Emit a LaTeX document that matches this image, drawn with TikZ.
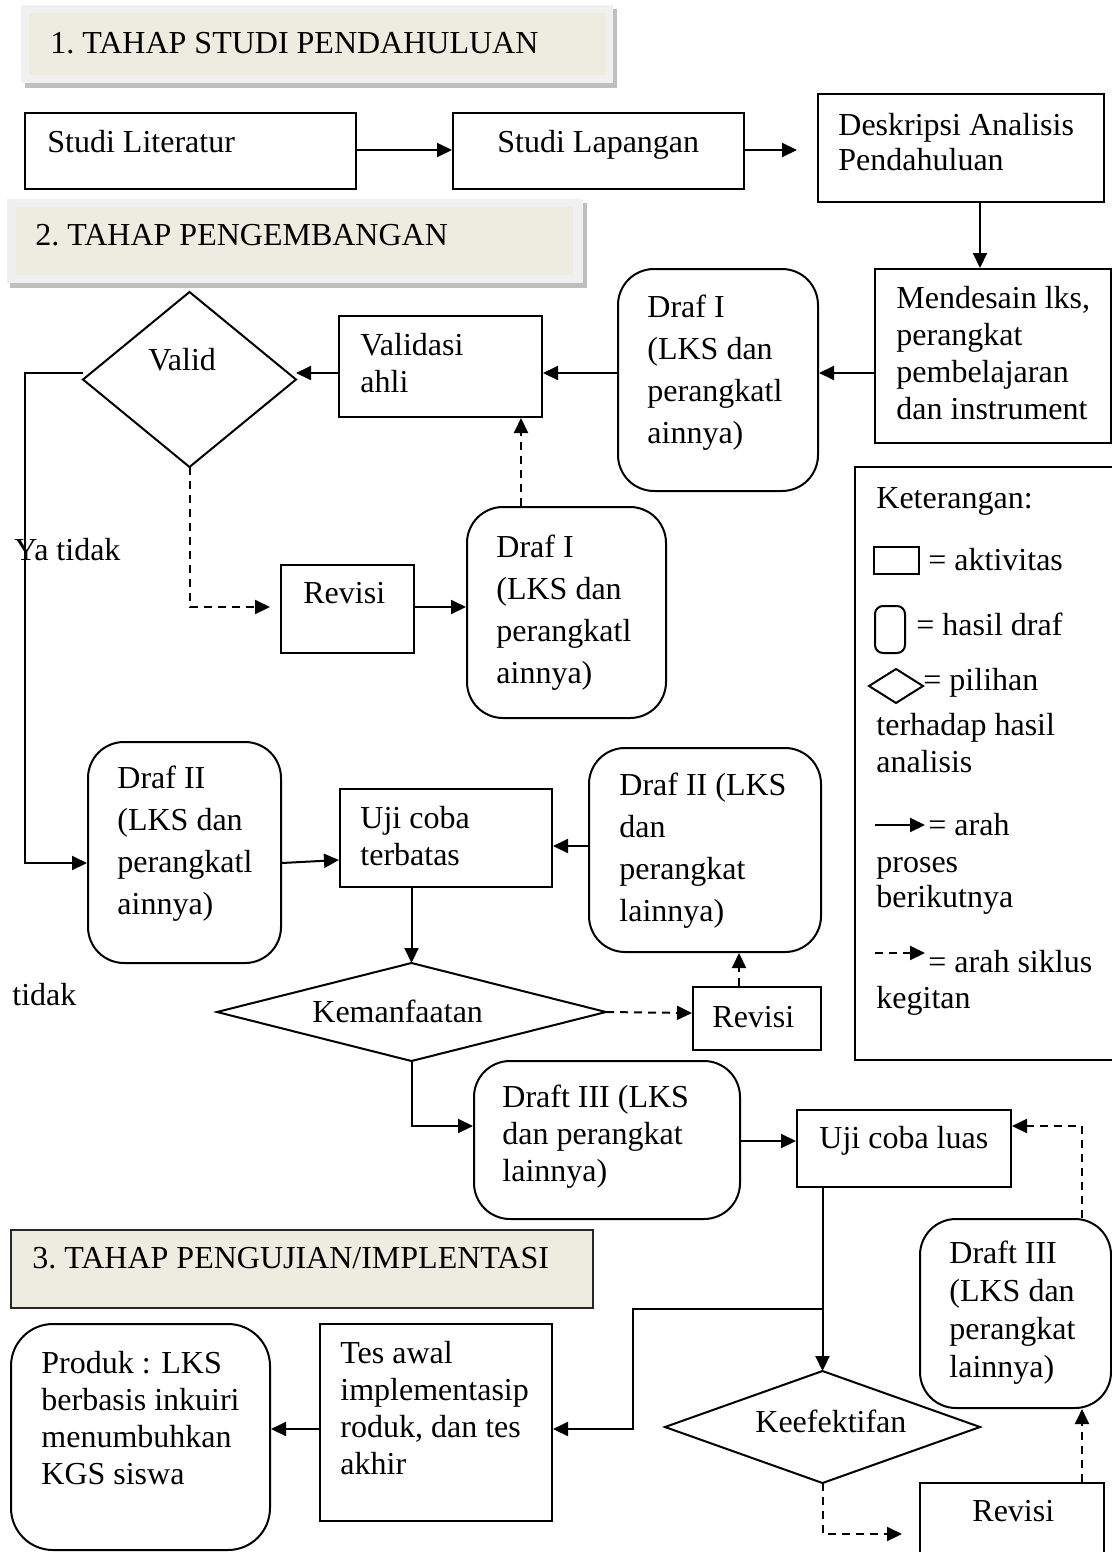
\documentclass[tikz,border=0pt]{standalone}
\usepackage{fontspec}
\setmainfont{Liberation Serif}
\usetikzlibrary{arrows.meta,shapes.geometric,fit,calc}
\definecolor{tanfill}{HTML}{EEECE1}
\definecolor{hborder}{HTML}{F0F0F0}
\definecolor{hshadow}{HTML}{BFBFBF}
\newcommand\tstrut{\rule{0pt}{11pt}}
\tikzset{
  box/.style={draw=black, line width=1pt, inner sep=0pt},
  rbox/.style={box, rounded corners=18pt},
  dia/.style={diamond, draw=black, line width=1pt, inner sep=0pt, outer sep=0pt},
  txt/.style={inner sep=0pt, align=left, anchor=north west},
  arr/.style={line width=1pt, -{Triangle[length=7.5pt,width=7pt]}},
  darr/.style={arr, dash pattern=on 4pt off 3pt},
}
% \tx{name}{x}{first baseline}{baselineskip in pt}{text}
\newcommand\tx[5]{\node[txt, font=\fontsize{16}{#4}\selectfont] (#1) at (#2,#3-22) {\tstrut #5};}
\begin{document}
\begin{tikzpicture}[x=0.5pt, y=-0.5pt]
\clip (0,0) rectangle (1112,1552);
\fill[white] (0,0) rectangle (1112,1552);

% ---------- headers ----------
\fill[hshadow] (25,9) rectangle (617,88);
\fill[hborder] (21,5) rectangle (613,83);
\node[fill=tanfill, inner sep=0pt, fit={(29,13) (606,75)}] (h1) {};
\tx{h1t}{50}{53}{20}{1.\ TAHAP STUDI PENDAHULUAN}

\fill[hshadow] (10,203) rectangle (587,288);
\fill[hborder] (7,199) rectangle (583,283);
\node[fill=tanfill, inner sep=0pt, fit={(16,207) (573,275)}] (h2) {};
\tx{h2t}{35}{245}{20}{2.\ TAHAP PENGEMBANGAN}

\node[box, draw=black!85, fill=tanfill, fit={(11,1230) (593,1308)}] (h3) {};
\tx{h3t}{32}{1268}{20}{3.\ TAHAP PENGUJIAN/IMPLENTASI}

% ---------- stage 1 ----------
\node[box, fit={(25,113) (356,189)}] (sl) {};
\tx{slt}{47}{152}{20}{Studi Literatur}
\node[box, fit={(453,113) (744,189)}] (slap) {};
\tx{slapt}{497}{152}{20}{Studi Lapangan}
\node[box, fit={(818,94) (1104,202)}] (desk) {};
\tx{deskt}{838}{135}{17.5}{Deskripsi Analisis\\Pendahuluan}

% ---------- stage 2 ----------
\node[box, fit={(875,269) (1111,443)}] (mend) {};
\tx{mendt}{896}{308}{18.5}{Mendesain lks,\\perangkat\\pembelajaran\\dan instrument}
\node[rbox, fit={(618,269) (818,491)}] (drafI) {};
\tx{drafIt}{647}{317}{21}{Draf I\\(LKS dan\\perangkatl\\ainnya)}
\node[box, fit={(339,316) (542,417)}] (val) {};
\tx{valt}{360}{355}{18.5}{Validasi\\ahli}
\node[dia, minimum width=106.5pt, minimum height=87.5pt] (validD) at (189.5,379.5) {};
\tx{validt}{148}{370}{20}{Valid}
\tx{yat}{14}{560}{20}{Ya tidak}
\node[box, fit={(281,565) (414,653)}] (rev1) {};
\tx{rev1t}{303}{603}{20}{Revisi}
\node[rbox, fit={(467,507) (666,718)}] (drafI2) {};
\tx{drafI2t}{496}{557}{21}{Draf I\\(LKS dan\\perangkatl\\ainnya)}

\node[rbox, fit={(88,742) (281,963)}] (d2L) {};
\tx{d2Lt}{117}{788}{21}{Draf II\\(LKS dan\\perangkatl\\ainnya)}
\node[box, fit={(340,789) (552,887)}] (uji1) {};
\tx{uji1t}{360}{828}{18.5}{Uji coba\\terbatas}
\node[rbox, fit={(589,748) (821,952)}] (d2R) {};
\tx{d2Rt}{619}{795}{21}{Draf II (LKS\\dan\\perangkat\\lainnya)}
\node[dia, minimum width=194.5pt, minimum height=49pt] (kemD) at (411.5,1012) {};
\tx{kemt}{312}{1022}{20}{Kemanfaatan}
\tx{tidakt}{12}{1005}{20}{tidak}
\node[box, fit={(693,987) (821,1050)}] (rev2) {};
\tx{rev2t}{712}{1027}{20}{Revisi}

\node[rbox, fit={(474,1061) (740,1219)}] (d3) {};
\tx{d3t}{502}{1107}{18.5}{Draft III (LKS\\dan perangkat\\lainnya)}
\node[box, fit={(797,1110) (1011,1187)}] (ujiL) {};
\tx{ujiLt}{819}{1148}{20}{Uji coba luas}
\node[rbox, fit={(920,1219) (1111,1408)}] (d3R) {};
\tx{d3Rt}{949}{1263}{19}{Draft III\\(LKS dan\\perangkat\\lainnya)}

% ---------- stage 3 ----------
\node[box, fit={(320,1324) (552,1521)}] (tes) {};
\tx{test}{340}{1363}{18.5}{Tes awal\\implementasip\\roduk, dan tes\\akhir}
\node[rbox, rounded corners=21pt, fit={(11,1324) (270,1550)}] (prod) {};
\tx{prodt}{41}{1373}{18.5}{Produk : LKS\\berbasis inkuiri\\menumbuhkan\\KGS siswa}
\node[dia, minimum width=157.5pt, minimum height=56pt] (keefD) at (822.5,1427) {};
\tx{keeft}{755}{1432}{20}{Keefektifan}
\node[box, fit={(920,1483) (1104,1570)}] (rev3) {};
\tx{rev3t}{972}{1521}{20}{Revisi}

% ---------- legend ----------
\node[box, fit={(855,467) (1113,1060)}] (leg) {};
\tx{legt}{876}{508}{20}{Keterangan:}
\node[box, fit={(874,547) (919,574)}] (lgbox) {};
\tx{lg1}{928}{570}{20}{= aktivitas}
\node[box, rounded corners=4pt, fit={(875,606) (905,653)}] (lgrbox) {};
\tx{lg2}{916}{635}{20}{= hasil draf}
\node[dia, minimum width=27pt, minimum height=17pt] (lgdia) at (896,686) {};
\tx{lg3}{923}{690}{20}{= pilihan}
\tx{lg3b}{876}{735}{18.5}{terhadap hasil\\analisis}
\coordinate (la1) at (875,825);
\coordinate (la2) at (925,825);
\draw[arr] (la1) -- (la2);
\tx{lg4}{928}{835}{20}{= arah}
\tx{lg4b}{876}{872}{17.5}{proses\\berikutnya}
\coordinate (lb1) at (875,953);
\coordinate (lb2) at (925,953);
\draw[darr] (lb1) -- (lb2);
\tx{lg5}{928}{972}{20}{= arah siklus}
\tx{lg5b}{876}{1008}{20}{kegitan}

% ---------- helper coordinates ----------
\coordinate (y150) at (0,150);
\coordinate (x980) at (980,0);
\coordinate (y373) at (0,373);
\coordinate (Lc) at (25,373);
\coordinate (y863) at (0,863);
\coordinate (y860) at (0,860);
\coordinate (y607) at (0,607);
\coordinate (x521) at (521,0);
\coordinate (y846) at (0,846);
\coordinate (x739) at (739,0);
\coordinate (y1013) at (0,1013);
\coordinate (y1126) at (0,1126);
\coordinate (y1141) at (0,1141);
\coordinate (x1082) at (1082,0);
\coordinate (c633) at (633,1429);
\coordinate (y1534) at (0,1534);
\coordinate (tip1) at (797,150);
\coordinate (tip2) at (270,607);
\coordinate (tip3) at (902,1534);

% ---------- connectors ----------
\draw[arr] (sl.east |- y150) -- (slap.west |- y150);
\draw[arr] (slap.east |- y150) -- (tip1);
\draw[arr] (desk.south -| x980) -- (mend.north -| x980);
\draw[arr] (mend.west |- y373) -- (drafI.east |- y373);
\draw[arr] (drafI.west |- y373) -- (val.east |- y373);
\draw[arr] (val.west |- y373) -- (validD.east |- y373);
\draw[arr] (validD.west |- y373) -- (Lc) -- (Lc |- y863) -- (d2L.west |- y863);
\draw[darr] (validD.south) -- (validD.south |- y607) -- (tip2);
\draw[arr] (rev1.east |- y607) -- (drafI2.west |- y607);
\draw[darr] (drafI2.north -| x521) -- (val.south -| x521);
\draw[arr] (d2L.east |- y863) -- (uji1.west |- y860);
\draw[arr] (d2R.west |- y846) -- (uji1.east |- y846);
\draw[arr] (uji1.south -| kemD.north) -- (kemD.north);
\draw[darr] (kemD.east) -- (rev2.west |- y1013);
\draw[darr] (rev2.north -| x739) -- (d2R.south -| x739);
\draw[arr] (kemD.south) -- (kemD.south |- y1126) -- (d3.west |- y1126);
\draw[arr] (d3.east |- y1141) -- (ujiL.west |- y1141);
\draw[darr] (d3R.north -| x1082) -- (x1082 |- y1126) -- (ujiL.east |- y1126);
\draw[arr] (ujiL.south -| keefD.north) -- (keefD.north);
\coordinate (J) at (keefD.north |- h3.south);
\draw[arr] (J) -| (c633) -- (tes.east |- c633);
\draw[arr] (tes.west |- c633) -- (prod.east |- c633);
\draw[darr] (keefD.south) -- (keefD.south |- y1534) -- (tip3);
\draw[darr] (rev3.north -| x1082) -- (d3R.south -| x1082);
\end{tikzpicture}
\end{document}
